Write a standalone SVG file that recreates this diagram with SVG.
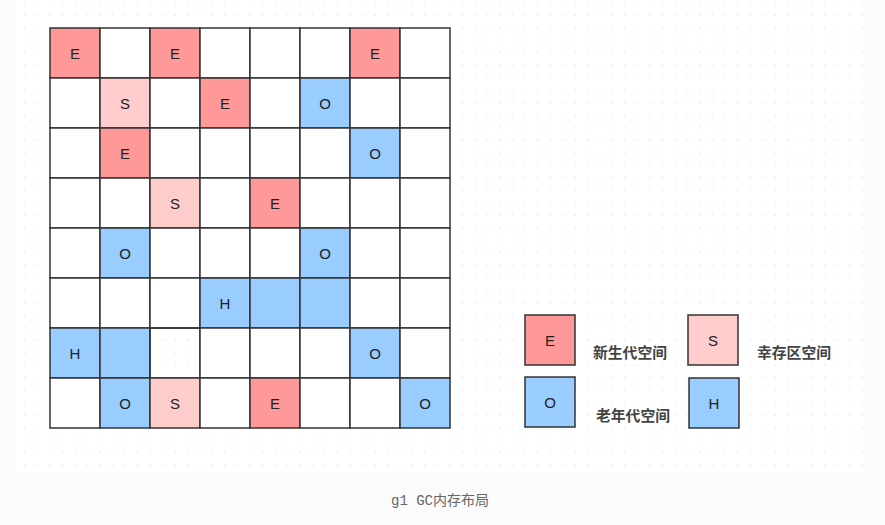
<svg xmlns="http://www.w3.org/2000/svg" width="885" height="525" viewBox="0 0 885 525">
<style>
.cell{stroke:#333;stroke-width:1.5}
.w{fill:#fff}
.e{fill:#ff9999}
.s{fill:#ffcccc}
.o{fill:#99ccff}
.t{fill:none}
.lt{font-family:"Liberation Sans",Arial,sans-serif;font-size:15px;fill:#222;text-anchor:middle;dominant-baseline:central}
.lg{font-family:"Liberation Sans","Noto Sans CJK SC",sans-serif;font-size:14.8px;font-weight:bold;fill:#444}
.cap{font-family:"Liberation Mono","Noto Sans CJK SC",monospace;font-size:14px;fill:#666}
</style>
<defs>
<pattern id="dots" x="0" y="2.5" width="12.5" height="12.5" patternUnits="userSpaceOnUse">
<rect x="-0.6" y="-0.6" width="1.3" height="1.3" fill="#e2e2e2"/>
<rect x="11.9" y="-0.6" width="1.3" height="1.3" fill="#e2e2e2"/>
<rect x="-0.6" y="11.9" width="1.3" height="1.3" fill="#e2e2e2"/>
<rect x="11.9" y="11.9" width="1.3" height="1.3" fill="#e2e2e2"/>
</pattern>
</defs>
<rect x="0" y="0" width="885" height="525" fill="#fbfbfb"/>
<rect x="16" y="0" width="849" height="473" fill="#ffffff"/>
<rect x="16" y="0" width="849" height="473" fill="url(#dots)"/>
<g id="grid">
<g id="row0">
<rect class="cell e" x="50" y="28" width="50" height="50"/><text class="lt" x="75" y="53">E</text>
<rect class="cell w" x="100" y="28" width="50" height="50"/>
<rect class="cell e" x="150" y="28" width="50" height="50"/><text class="lt" x="175" y="53">E</text>
<rect class="cell w" x="200" y="28" width="50" height="50"/>
<rect class="cell w" x="250" y="28" width="50" height="50"/>
<rect class="cell w" x="300" y="28" width="50" height="50"/>
<rect class="cell e" x="350" y="28" width="50" height="50"/><text class="lt" x="375" y="53">E</text>
<rect class="cell w" x="400" y="28" width="50" height="50"/>
</g>
<g id="row1">
<rect class="cell w" x="50" y="78" width="50" height="50"/>
<rect class="cell s" x="100" y="78" width="50" height="50"/><text class="lt" x="125" y="103">S</text>
<rect class="cell w" x="150" y="78" width="50" height="50"/>
<rect class="cell e" x="200" y="78" width="50" height="50"/><text class="lt" x="225" y="103">E</text>
<rect class="cell w" x="250" y="78" width="50" height="50"/>
<rect class="cell o" x="300" y="78" width="50" height="50"/><text class="lt" x="325" y="103">O</text>
<rect class="cell w" x="350" y="78" width="50" height="50"/>
<rect class="cell w" x="400" y="78" width="50" height="50"/>
</g>
<g id="row2">
<rect class="cell w" x="50" y="128" width="50" height="50"/>
<rect class="cell e" x="100" y="128" width="50" height="50"/><text class="lt" x="125" y="153">E</text>
<rect class="cell w" x="150" y="128" width="50" height="50"/>
<rect class="cell w" x="200" y="128" width="50" height="50"/>
<rect class="cell w" x="250" y="128" width="50" height="50"/>
<rect class="cell w" x="300" y="128" width="50" height="50"/>
<rect class="cell o" x="350" y="128" width="50" height="50"/><text class="lt" x="375" y="153">O</text>
<rect class="cell w" x="400" y="128" width="50" height="50"/>
</g>
<g id="row3">
<rect class="cell w" x="50" y="178" width="50" height="50"/>
<rect class="cell w" x="100" y="178" width="50" height="50"/>
<rect class="cell s" x="150" y="178" width="50" height="50"/><text class="lt" x="175" y="203">S</text>
<rect class="cell w" x="200" y="178" width="50" height="50"/>
<rect class="cell e" x="250" y="178" width="50" height="50"/><text class="lt" x="275" y="203">E</text>
<rect class="cell w" x="300" y="178" width="50" height="50"/>
<rect class="cell w" x="350" y="178" width="50" height="50"/>
<rect class="cell w" x="400" y="178" width="50" height="50"/>
</g>
<g id="row4">
<rect class="cell w" x="50" y="228" width="50" height="50"/>
<rect class="cell o" x="100" y="228" width="50" height="50"/><text class="lt" x="125" y="253">O</text>
<rect class="cell w" x="150" y="228" width="50" height="50"/>
<rect class="cell w" x="200" y="228" width="50" height="50"/>
<rect class="cell w" x="250" y="228" width="50" height="50"/>
<rect class="cell o" x="300" y="228" width="50" height="50"/><text class="lt" x="325" y="253">O</text>
<rect class="cell w" x="350" y="228" width="50" height="50"/>
<rect class="cell w" x="400" y="228" width="50" height="50"/>
</g>
<g id="row5">
<rect class="cell w" x="50" y="278" width="50" height="50"/>
<rect class="cell w" x="100" y="278" width="50" height="50"/>
<rect class="cell w" x="150" y="278" width="50" height="50"/>
<rect class="cell o" x="200" y="278" width="50" height="50"/><text class="lt" x="225" y="303">H</text>
<rect class="cell o" x="250" y="278" width="50" height="50"/>
<rect class="cell o" x="300" y="278" width="50" height="50"/>
<rect class="cell w" x="350" y="278" width="50" height="50"/>
<rect class="cell w" x="400" y="278" width="50" height="50"/>
</g>
<g id="row6">
<rect class="cell o" x="50" y="328" width="50" height="50"/><text class="lt" x="75" y="353">H</text>
<rect class="cell o" x="100" y="328" width="50" height="50"/>
<rect class="cell t" x="150" y="328" width="50" height="50"/>
<rect class="cell w" x="200" y="328" width="50" height="50"/>
<rect class="cell w" x="250" y="328" width="50" height="50"/>
<rect class="cell w" x="300" y="328" width="50" height="50"/>
<rect class="cell o" x="350" y="328" width="50" height="50"/><text class="lt" x="375" y="353">O</text>
<rect class="cell w" x="400" y="328" width="50" height="50"/>
</g>
<g id="row7">
<rect class="cell w" x="50" y="378" width="50" height="50"/>
<rect class="cell o" x="100" y="378" width="50" height="50"/><text class="lt" x="125" y="403">O</text>
<rect class="cell s" x="150" y="378" width="50" height="50"/><text class="lt" x="175" y="403">S</text>
<rect class="cell w" x="200" y="378" width="50" height="50"/>
<rect class="cell e" x="250" y="378" width="50" height="50"/><text class="lt" x="275" y="403">E</text>
<rect class="cell w" x="300" y="378" width="50" height="50"/>
<rect class="cell w" x="350" y="378" width="50" height="50"/>
<rect class="cell o" x="400" y="378" width="50" height="50"/><text class="lt" x="425" y="403">O</text>
</g>
</g>
<g id="legend-e"><rect class="cell e" x="525" y="315" width="50" height="50"/><text class="lt" x="550" y="340">E</text><text class="lg" x="593" y="358">新生代空间</text></g>
<g id="legend-s"><rect class="cell s" x="688" y="315" width="50" height="50"/><text class="lt" x="713" y="340">S</text><text class="lg" x="757" y="358">幸存区空间</text></g>
<g id="legend-o"><rect class="cell o" x="525" y="377" width="50" height="50"/><text class="lt" x="550" y="402">O</text><text class="lg" x="596" y="421">老年代空间</text></g>
<g id="legend-h"><rect class="cell o" x="689" y="378" width="50" height="50"/><text class="lt" x="714" y="403">H</text></g>
<g id="connectors"/>
<text class="cap" x="391" y="505">g1 GC内存布局</text>
</svg>
